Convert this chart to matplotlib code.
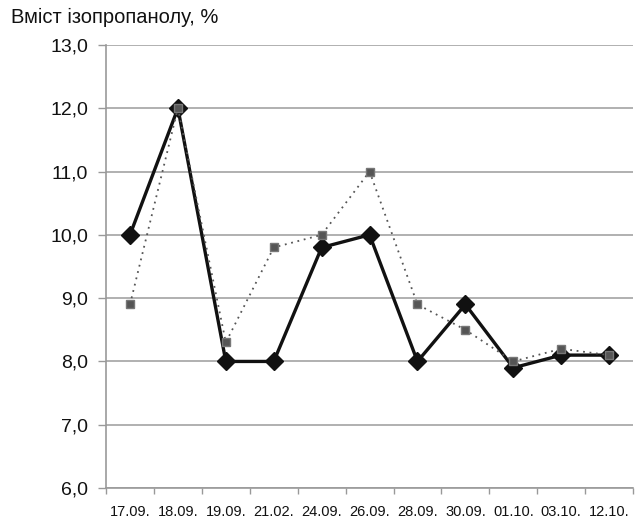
import matplotlib
matplotlib.use("Agg")
import matplotlib.pyplot as plt
from matplotlib.ticker import FixedLocator, FuncFormatter

dates = ["17.09.", "18.09.", "19.09.", "21.02.", "24.09.", "26.09.",
         "28.09.", "30.09.", "01.10.", "03.10.", "12.10."]
solid_values = [10.0, 12.0, 8.0, 8.0, 9.8, 10.0, 8.0, 8.9, 7.9, 8.1, 8.1]
dotted_values = [8.9, 12.0, 8.3, 9.8, 10.0, 11.0, 8.9, 8.5, 8.0, 8.2, 8.1]
y_ticks = [6, 7, 8, 9, 10, 11, 12, 13]

plt.rcParams["font.family"] = ["Liberation Sans", "DejaVu Sans"]

fig = plt.figure(figsize=(6.35, 5.22), dpi=100)
ax = fig.add_axes([0.167, 0.065, 0.83, 0.849])

x = list(range(len(dates)))
ax.plot(x, solid_values, color="#111111", linewidth=2.4, marker="D",
        markersize=9.5, markerfacecolor="#111111", markeredgecolor="#111111",
        zorder=3)
ax.plot(x, dotted_values, color="#555555", linewidth=1.3, linestyle=(0, (1.0, 2.6)),
        marker="s", markersize=6, markerfacecolor="#555555",
        markeredgecolor="#777777", zorder=4)

ax.set_xlim(-0.5, len(dates) - 0.5)
ax.set_ylim(6, 13)
ax.set_yticks(y_ticks)
ax.yaxis.set_major_formatter(FuncFormatter(lambda v, _: f"{v:.1f}".replace(".", ",")))
ax.grid(axis="y", color="#aaaaaa", linewidth=1.3)
ax.set_axisbelow(True)

ax.set_xticks(x)
ax.set_xticklabels(dates, family=["Liberation Sans Narrow", "Liberation Sans"], fontsize=10.5)
ax.xaxis.set_minor_locator(FixedLocator([i - 0.5 for i in range(len(dates) + 1)]))
ax.tick_params(axis="x", which="major", length=0, pad=12, colors="#111111")
ax.tick_params(axis="x", which="minor", length=4, width=1, color="#999999")
ax.tick_params(axis="y", length=6, width=1, color="#999999", labelsize=14,
               labelcolor="#111111", pad=7)

for side in ("top", "right"):
    ax.spines[side].set_visible(False)
for side in ("left", "bottom"):
    ax.spines[side].set_color("#999999")
    ax.spines[side].set_linewidth(1.2)

fig.text(0.017, 0.967, "Вміст ізопропанолу, %", fontsize=14.5, color="#111111",
         va="center", ha="left")

fig.savefig("out.png", dpi=100)
